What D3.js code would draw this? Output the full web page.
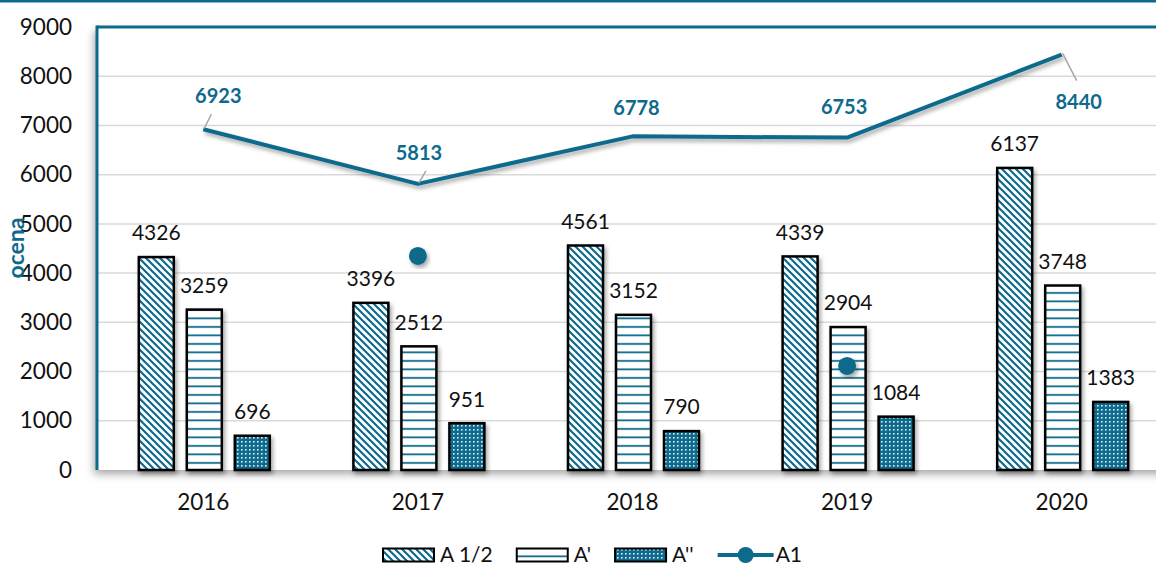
<!DOCTYPE html>
<html>
<head>
<meta charset="utf-8">
<script src="https://cdn.jsdelivr.net/npm/d3@7"></script>
<style>
  body { margin: 0; background: #fff; }
  svg { display: block; font-family: Lato, "Open Sans", sans-serif; }
</style>
</head>
<body>
<div id="chart"></div>
<script>
// data
var years = ['2016', '2017', '2018', '2019', '2020']
var seriesNames = ['A 1/2', "A'", "A''"]
var aHalf = [4326, 3396, 4561, 4339, 6137]
var aPrime = [3259, 2512, 3152, 2904, 3748]
var aDouble = [696, 951, 790, 1084, 1383]
var a1 = [6923, 5813, 6778, 6753, 8440]
var lineName = 'A1'
// loose markers left in the chart
var strayYears = ['2017', '2019']
var strayValues = [4350, 2115]
var yTicks = [0, 1000, 2000, 3000, 4000, 5000, 6000, 7000, 8000, 9000]
var yTitle = 'ocena'

// label placement for the A1 values [dx, dy] and leader line ends
var lineLabelOffsets = [[15, -33], [1, -31], [4, -28], [-3, -31], [17, 47]]
var leaderEnds = [[8, -15], [8, -13], null, null, [15, 26]]

var teal = '#0e6a8c'
var W = 1156, H = 569
var margin = {top: 27, left: 96, bottom: 99}
var plotRight = 1169

var svg = d3.select('#chart').append('svg')
    .attr('width', W).attr('height', H)

var defs = svg.append('defs')
var shadow = defs.append('filter').attr('id', 'shadow')
    .attr('x', '-20%').attr('y', '-20%').attr('width', '140%').attr('height', '140%')
shadow.append('feDropShadow').attr('dx', 2).attr('dy', 3)
    .attr('stdDeviation', 2).attr('flood-color', '#000').attr('flood-opacity', 0.35)
var shadowSoft = defs.append('filter').attr('id', 'shadowSoft')
    .attr('x', '-5%').attr('y', '-5%').attr('width', '110%').attr('height', '110%')
shadowSoft.append('feDropShadow').attr('dx', -3).attr('dy', 4)
    .attr('stdDeviation', 4).attr('flood-color', '#000').attr('flood-opacity', 0.35)

// patterns
var pDiag = defs.append('pattern').attr('id', 'pDiag').attr('patternUnits', 'userSpaceOnUse')
    .attr('width', 7).attr('height', 7)
pDiag.append('rect').attr('width', 7).attr('height', 7).attr('fill', '#fff')
pDiag.append('path').attr('d', 'M-2,-2 L9,9 M-5.5,1.5 L1.5,8.5 M5.5,-1.5 L8.5,1.5')
    .attr('stroke', teal).attr('stroke-width', 2.2)

var pHoriz = defs.append('pattern').attr('id', 'pHoriz').attr('patternUnits', 'userSpaceOnUse')
    .attr('width', 8).attr('height', 8.5)
pHoriz.append('rect').attr('width', 8).attr('height', 8.5).attr('fill', '#fff')
pHoriz.append('rect').attr('y', 3).attr('width', 8).attr('height', 1.8).attr('fill', teal)

var pDots = defs.append('pattern').attr('id', 'pDots').attr('patternUnits', 'userSpaceOnUse')
    .attr('width', 4).attr('height', 4)
pDots.append('rect').attr('width', 4).attr('height', 4).attr('fill', teal)
pDots.append('rect').attr('x', 1).attr('y', 1).attr('width', 1.6).attr('height', 1.6).attr('fill', '#dff0f5')

var fills = ['url(#pDiag)', 'url(#pHoriz)', 'url(#pDots)']

// outer chart border line
svg.append('line').attr('x1', 0).attr('x2', W).attr('y1', 1).attr('y2', 1)
    .attr('stroke', teal).attr('stroke-width', 3)

// scales
var y = d3.scaleLinear().domain([0, 9000]).range([H - margin.bottom - 0, margin.top])
var x = d3.scaleBand().domain(years).range([margin.left, plotRight]).padding(0)
var inner = d3.scaleBand().domain(seriesNames).range([0, 131]).paddingInner(0.271).paddingOuter(0)
var groupOffset = x.bandwidth() / 2 - 64.5

// plot area with shadow
svg.append('rect').attr('x', margin.left + 1).attr('y', margin.top)
    .attr('width', W - margin.left + 20).attr('height', y(0) - margin.top)
    .attr('fill', '#fff').attr('filter', 'url(#shadowSoft)')

// gridlines
svg.append('g').selectAll('line').data(yTicks.slice(1)).enter().append('line')
    .attr('x1', margin.left + 1).attr('x2', W)
    .attr('y1', d => y(d)).attr('y2', d => y(d))
    .attr('stroke', '#d9d9d9').attr('stroke-width', 1.5)

// plot borders
svg.append('line').attr('x1', margin.left + 1).attr('x2', W + 5)
    .attr('y1', margin.top).attr('y2', margin.top)
    .attr('stroke', teal).attr('stroke-width', 3)
svg.append('line').attr('x1', margin.left + 1).attr('x2', margin.left + 1)
    .attr('y1', margin.top - 1.5).attr('y2', y(0))
    .attr('stroke', teal).attr('stroke-width', 3)

// Y axis
var yAxis = svg.append('g')
    .attr('transform', 'translate(' + (margin.left - 24) + ',0)')
    .call(d3.axisLeft(y).tickValues(yTicks).tickSize(0).tickPadding(0).tickFormat(d3.format('d')))
yAxis.select('.domain').remove()
yAxis.selectAll('text').attr('font-size', 22.5).attr('fill', '#111')
    .attr('font-family', 'Lato, sans-serif')

// X axis
var xAxis = svg.append('g')
    .attr('transform', 'translate(0,' + y(0) + ')')
    .call(d3.axisBottom(x).tickSize(0).tickPadding(24))
xAxis.select('.domain').remove()
xAxis.selectAll('text').attr('font-size', 22.5).attr('fill', '#111')
    .attr('font-family', 'Lato, sans-serif')

// bars
var series = [aHalf, aPrime, aDouble]
series.forEach(function(vals, si){
    var g = svg.append('g')
    g.selectAll('rect').data(vals).enter().append('rect')
        .attr('x', (d, i) => x(years[i]) + groupOffset + inner(seriesNames[si]))
        .attr('y', d => y(d))
        .attr('width', inner.bandwidth())
        .attr('height', d => y(0) - y(d))
        .attr('fill', fills[si])
        .attr('stroke', '#000').attr('stroke-width', 2.5)
        .attr('filter', 'url(#shadow)')
    g.selectAll('text').data(vals).enter().append('text')
        .attr('x', (d, i) => x(years[i]) + groupOffset + inner(seriesNames[si]) + inner.bandwidth() / 2)
        .attr('y', d => y(d) - 24)
        .attr('dy', '0.35em')
        .attr('text-anchor', 'middle')
        .attr('font-size', 21).attr('fill', '#111')
        .text(d => d)
})

// bottom axis line
svg.append('line').attr('x1', margin.left).attr('x2', W)
    .attr('y1', y(0) + 0.5).attr('y2', y(0) + 0.5)
    .attr('stroke', '#9fbac8').attr('stroke-width', 2)
    .attr('filter', 'url(#shadow)')

// A1 line
var line = d3.line().x((d, i) => x(years[i]) + x.bandwidth() / 2).y(d => y(d))
svg.append('path').datum(a1).attr('d', line)
    .attr('fill', 'none').attr('stroke', teal).attr('stroke-width', 4)
    .attr('stroke-linejoin', 'round').attr('filter', 'url(#shadow)')

// leader lines
svg.append('g').selectAll('line').data(a1).enter()
    .filter((d, i) => leaderEnds[i] !== null)
    .append('line')
    .attr('x1', function(d){ var i = a1.indexOf(d); return x(years[i]) + x.bandwidth() / 2 + 1 })
    .attr('y1', function(d){ return y(d) - 1 })
    .attr('x2', function(d){ var i = a1.indexOf(d); return x(years[i]) + x.bandwidth() / 2 + leaderEnds[i][0] })
    .attr('y2', function(d){ var i = a1.indexOf(d); return y(d) + leaderEnds[i][1] })
    .attr('stroke', '#a6a6a6').attr('stroke-width', 1.5)

// A1 labels
svg.append('g').selectAll('text').data(a1).enter().append('text')
    .attr('x', (d, i) => x(years[i]) + x.bandwidth() / 2 + lineLabelOffsets[i][0])
    .attr('y', (d, i) => y(d) + lineLabelOffsets[i][1])
    .attr('dy', '0.35em')
    .attr('text-anchor', 'middle')
    .attr('font-size', 20).attr('font-weight', 'bold').attr('fill', teal)
    .text(d => d)

// stray markers
svg.append('g').selectAll('circle').data(strayValues).enter().append('circle')
    .attr('cx', (d, i) => x(strayYears[i]) + x.bandwidth() / 2)
    .attr('cy', d => y(d))
    .attr('r', 9)
    .attr('fill', teal)
    .attr('filter', 'url(#shadow)')

// Y title
svg.append('text')
    .attr('transform', 'translate(16,' + 248 + ') rotate(-90)')
    .attr('dy', '0.35em')
    .attr('text-anchor', 'middle')
    .attr('font-size', 23).attr('font-weight', 'bold').attr('fill', teal)
    .text(yTitle)

// legend
var legend = svg.append('g')
var lx = 383, ly = 555
seriesNames.forEach(function(name, si){
    legend.append('rect').attr('x', lx).attr('y', ly - 6.5)
        .attr('width', 51).attr('height', 13)
        .attr('fill', fills[si]).attr('stroke', '#000').attr('stroke-width', 2)
    var t = legend.append('text').attr('x', lx + 57).attr('y', ly)
        .attr('dy', '0.35em').attr('font-size', 21).attr('fill', '#111').text(name)
    lx = lx + 57 + t.node().getComputedTextLength() + 24
})
legend.append('line').attr('x1', lx).attr('x2', lx + 56).attr('y1', ly).attr('y2', ly)
    .attr('stroke', teal).attr('stroke-width', 4)
legend.append('circle').attr('cx', lx + 28).attr('cy', ly).attr('r', 8).attr('fill', teal)
legend.append('text').attr('x', lx + 58).attr('y', ly)
    .attr('dy', '0.35em').attr('font-size', 21).attr('fill', '#111').text(lineName)
</script>
</body>
</html>
